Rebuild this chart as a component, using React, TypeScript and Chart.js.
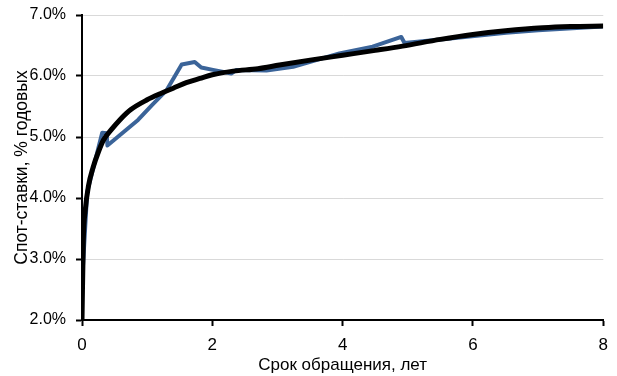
import React, { useEffect, useRef } from "react";
import { Chart, registerables } from "chart.js";

Chart.register(...registerables);

const fitX: number[] = [0, 0.02, 0.05, 0.1, 0.17, 0.25, 0.33, 0.45, 0.58, 0.75, 1.0, 1.2, 1.4, 1.6, 1.81, 2.0, 2.32, 2.7, 3.03, 3.5, 4.0, 4.5, 4.92, 5.5, 6.0, 6.5, 7.07, 7.5, 8.0];
const fitY: number[] = [2.0, 3.3, 3.8, 4.2, 4.5, 4.75, 4.95, 5.12, 5.28, 5.45, 5.61, 5.71, 5.8, 5.89, 5.96, 6.02, 6.08, 6.12, 6.18, 6.26, 6.34, 6.42, 6.49, 6.6, 6.68, 6.74, 6.79, 6.81, 6.82];

const spotX: number[] = [0.0, 0.08, 0.31, 0.38, 0.39, 0.86, 1.07, 1.3, 1.53, 1.73, 1.83, 2.01, 2.29, 2.37, 2.83, 3.24, 3.95, 4.46, 4.9, 4.95, 5.5, 6.51, 7.0, 7.99];
const spotY: number[] = [2.6, 4.1, 5.07, 5.06, 4.86, 5.28, 5.52, 5.77, 6.19, 6.23, 6.14, 6.1, 6.04, 6.1, 6.09, 6.15, 6.37, 6.48, 6.64, 6.54, 6.6, 6.71, 6.75, 6.81];

const xTicks: number[] = [0, 2, 4, 6, 8];
const yTicks: number[] = [2, 3, 4, 5, 6, 7];

const FONT = "'Liberation Sans', Arial, sans-serif";

export default function App() {
  const ref = useRef<HTMLCanvasElement | null>(null);
  useEffect(() => {
    document.body.style.margin = "0";
    const canvas = ref.current;
    if (!canvas) return;
    const chart = new Chart(canvas, {
      type: "line",
      data: {
        datasets: [
          {
            label: "fit",
            data: fitX.map((x, i) => ({ x, y: fitY[i] })),
            borderColor: "#000000",
            borderWidth: 5,
            pointRadius: 0,
            cubicInterpolationMode: "monotone",
            fill: false,
          },
          {
            label: "spot",
            data: spotX.map((x, i) => ({ x, y: spotY[i] })),
            borderColor: "#3b6499",
            borderWidth: 4,
            pointRadius: 0,
            tension: 0,
            borderJoinStyle: "round",
            fill: false,
          },
        ],
      },
      options: {
        responsive: false,
        animation: false,
        layout: { autoPadding: false, padding: { left: 0, right: 13, top: 15, bottom: 0 } },
        plugins: { legend: { display: false }, tooltip: { enabled: false } },
        scales: {
          x: {
            type: "linear",
            min: 0,
            max: 8,
            afterBuildTicks: (s: any) => {
              s.ticks = xTicks.map((v) => ({ value: v }));
            },
            afterFit: (s: any) => {
              s.height = 56;
            },
            ticks: {
              color: "#000",
              font: { family: FONT, size: 17 },
              padding: 9,
              maxRotation: 0,
            },
            grid: {
              drawOnChartArea: false,
              drawTicks: true,
              tickLength: 6,
              tickColor: "#000",
              tickWidth: 2,
            },
            border: { display: true, color: "#000", width: 2 },
            title: {
              display: true,
              text: "Срок обращения, лет",
              color: "#000",
              font: { family: FONT, size: 17 },
              padding: { top: 0, bottom: 0 },
            },
          },
          y: {
            type: "linear",
            min: 2,
            max: 7,
            afterBuildTicks: (s: any) => {
              s.ticks = yTicks.map((v) => ({ value: v }));
            },
            afterFit: (s: any) => {
              s.width = 82;
            },
            ticks: {
              color: "#000",
              font: { family: FONT, size: 16, lineHeight: 0.5 },
              padding: 10,
              callback: (v: any) => Number(v).toFixed(1) + "%",
            },
            grid: {
              color: "#d9d9d9",
              lineWidth: 1,
              drawTicks: true,
              tickLength: 6,
              tickColor: "#000",
              tickWidth: 2,
            },
            border: { display: true, color: "#000", width: 2 },
            title: {
              display: true,
              text: "Спот-ставки, % годовых",
              color: "#000",
              font: { family: FONT, size: 17.5 },
              padding: { top: 12, bottom: 0 },
            },
          },
        },
      },
    });
    return () => chart.destroy();
  }, []);
  return (
    <div style={{ width: 617, height: 376 }}>
      <canvas ref={ref} width={617} height={376} style={{ display: "block" }} />
    </div>
  );
}
